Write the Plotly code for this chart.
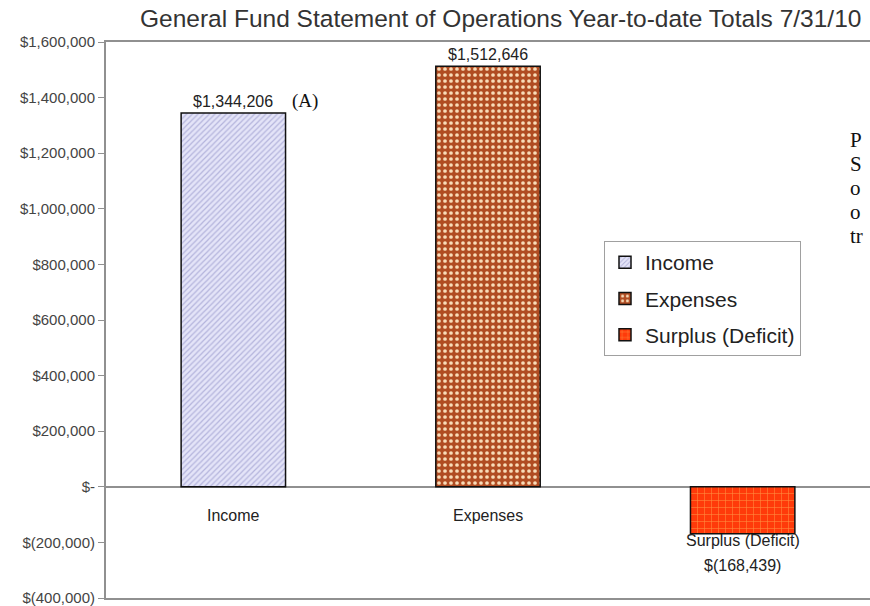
import plotly.graph_objects as go

categories = ["Income", "Expenses", "Surplus (Deficit)"]
values = [1344206, 1512646, -168439]
value_labels = ["$1,344,206", "$1,512,646", "$(168,439)"]
tick_vals = [1600000, 1400000, 1200000, 1000000, 800000, 600000, 400000, 200000, 0, -200000, -400000]
tick_text = ["$1,600,000", "$1,400,000", "$1,200,000", "$1,000,000", "$800,000", "$600,000",
             "$400,000", "$200,000", "$-", "$(200,000)", "$(400,000)"]
side_text = ["P", "S", "o", "o", "tr"]

fills = [
    dict(bg="#e4e4f8", fg="#b4b4dc", shape="/", size=4, sol=0.3),
    dict(bg="#b04c22", fg="#f8dcb8", shape=".", size=6, sol=0.3),
    dict(bg="#ff3a0a", fg="#ff9040", shape="+", size=7, sol=0.15),
]

fig = go.Figure()
for i, (cat, val) in enumerate(zip(categories, values)):
    f = fills[i]
    fig.add_trace(go.Bar(
        x=[i], y=[val], name=cat, width=0.41,
        legendgroup=cat,
        marker=dict(color=f["bg"], line=dict(color="#111111", width=1.5),
                    pattern=dict(shape=f["shape"], fgcolor=f["fg"], bgcolor=f["bg"],
                                 size=f["size"], solidity=f["sol"], fillmode="replace")),
        hoverinfo="skip",
    ))

font = "Arial, Liberation Sans, sans-serif"
L, R, T, B = 106, 0, 42, 8
pw, ph = 870 - L - R, 606 - T - B
lab = dict(family=font, size=16, color="#222")

ann = []
for i in range(2):
    ann.append(dict(x=i, y=values[i], xref="x", yref="y", text=value_labels[i], showarrow=False,
                    yanchor="bottom", yshift=1, font=lab))
ann.append(dict(x=0, y=0, xref="x", yref="y", text=categories[0], showarrow=False,
                yanchor="middle", yshift=-29, font=lab))
ann.append(dict(x=1, y=0, xref="x", yref="y", text=categories[1], showarrow=False,
                yanchor="middle", yshift=-29, font=lab))
ann.append(dict(x=2, y=values[2], xref="x", yref="y", text=categories[2], showarrow=False,
                yanchor="middle", yshift=-7, font=lab))
ann.append(dict(x=2, y=values[2], xref="x", yref="y", text=value_labels[2], showarrow=False,
                yanchor="middle", yshift=-32, font=lab))
# (A) marker next to the income label
ann.append(dict(x=(305 - L) / pw, y=(606 - B - 101) / ph, xref="paper", yref="paper", text="(A)",
                showarrow=False, xanchor="center", yanchor="middle",
                font=dict(family="Liberation Serif, Times New Roman, serif", size=19, color="#111")))
# side text fragments (cut-off document text)
for k, t in enumerate(side_text):
    ann.append(dict(x=(848 - L) / pw, y=(606 - B - (140 + 24 * k)) / ph, xref="paper", yref="paper",
                    text=t, showarrow=False, xanchor="left", yanchor="middle", align="left",
                    font=dict(family="Liberation Serif, Times New Roman, serif", size=21, color="#111")))

fig.update_layout(
    width=870, height=606,
    margin=dict(l=L, r=R, t=T, b=B),
    paper_bgcolor="white", plot_bgcolor="white",
    title=dict(text="General Fund Statement of Operations Year-to-date Totals 7/31/10",
               x=140 / 870, xanchor="left", y=1 - 18 / 606, yanchor="middle",
               font=dict(family=font, size=24.5, color="#333")),
    showlegend=True,
    legend=dict(x=(604 - L) / pw, y=(606 - B - 241) / ph, xanchor="left", yanchor="top",
                bgcolor="white", bordercolor="#a0a0a0", borderwidth=1,
                font=dict(family=font, size=21, color="#222"),
                traceorder="grouped", tracegroupgap=6, itemwidth=30),
    annotations=ann,
)
fig.update_xaxes(range=[-0.5, 2.5], showticklabels=False, showgrid=False, zeroline=False,
                 showline=True, linecolor="#909090", linewidth=2, mirror=True, fixedrange=True,
                 ticks="")
fig.update_yaxes(range=[-400000, 1600000], tickvals=tick_vals, ticktext=tick_text,
                 showgrid=False, zeroline=True, zerolinecolor="#909090", zerolinewidth=1.5,
                 showline=True, linecolor="#909090", linewidth=2, mirror=False,
                 ticks="outside", ticklen=6, tickcolor="#909090", fixedrange=True,
                 ticklabeloverflow="allow",
                 tickfont=dict(family=font, size=15, color="#444"))

fig.write_html("out.html", config={"displayModeBar": False},
               post_script="document.body.style.margin='0px';")
